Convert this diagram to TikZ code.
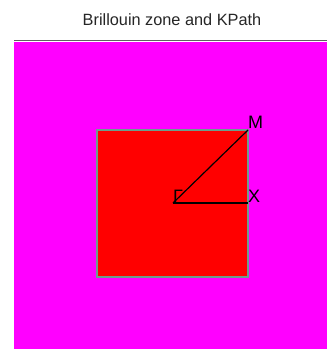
\documentclass[tikz,border=0pt]{standalone}
\usepackage{fontspec}
\setmainfont{Liberation Sans}
\definecolor{bgc}{HTML}{FF00FF}
\definecolor{zonec}{HTML}{FF0000}
\definecolor{edgec}{HTML}{6E9C8C}
\definecolor{rulec}{HTML}{606060}
\definecolor{titlec}{HTML}{262626}
\tikzset{
  zone/.style={fill=zonec, draw=edgec, line width=1.6pt},
  kpath/.style={black, line width=1.2pt},
  klabel/.style={anchor=base west, inner sep=0pt, font=\fontsize{18}{21}\selectfont},
  title/.style={anchor=base, inner sep=0pt, text=titlec, font=\fontsize{16.3}{19}\selectfont},
}
\begin{document}
\begin{tikzpicture}[x=1pt, y=-1pt]
  \useasboundingbox (0,0) rectangle (327,349);
  \fill[white] (0,0) rectangle (327,349);
  % axes area
  \fill[bgc] (14,42) rectangle (327,349);
  \draw[rulec, line width=1.5pt] (14,40.5) -- (327,40.5);
  \node[title] (ttl) at (172,25) {Brillouin zone and KPath};
  % zone
  \draw[zone] (97,130) rectangle (248,277);
  \coordinate (G) at (173,203);
  \coordinate (X) at (248,203);
  \coordinate (M) at (248,130);
  \draw[kpath] (G) -- (M);
  \draw[kpath] (G) -- (X);
  \node[klabel] (lG) at ([yshift=1pt]G) {Γ};
  \node[klabel] (lX) at ([yshift=1pt]X) {X};
  \node[klabel] (lM) at ([yshift=2pt]M) {M};
\end{tikzpicture}
\end{document}
